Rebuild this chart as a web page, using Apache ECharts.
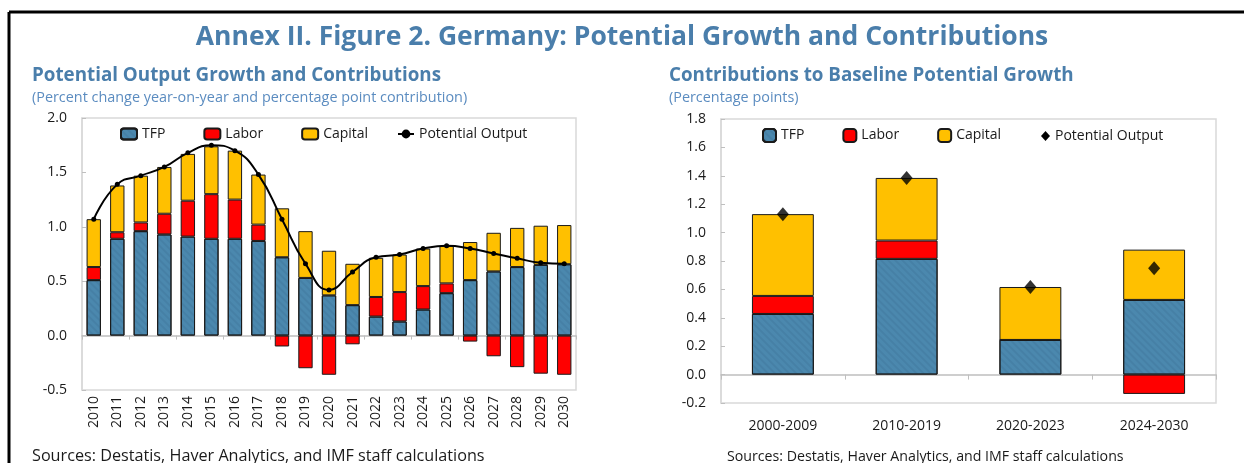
<!DOCTYPE html>
<html>
<head>
<meta charset="utf-8">
<script src="https://cdn.jsdelivr.net/npm/echarts@6/dist/echarts.min.js"></script>
<style>
  html, body { margin: 0; padding: 0; background: #fff; }
  #chart { width: 1244px; height: 463px; }
</style>
</head>
<body>
<div id="chart"></div>
<script>
// Annual potential output growth and its contributions (percent / pp)
const years = ['2010','2011','2012','2013','2014','2015','2016','2017','2018','2019','2020',
               '2021','2022','2023','2024','2025','2026','2027','2028','2029','2030'];
const tfpAnnual     = [0.51, 0.89, 0.96, 0.93, 0.91, 0.89, 0.89, 0.87, 0.72, 0.53, 0.37,
                       0.28, 0.175, 0.13, 0.24, 0.39, 0.51, 0.59, 0.63, 0.65, 0.656];
const laborAnnual   = [0.12, 0.06, 0.08, 0.19, 0.33, 0.41, 0.36, 0.15, -0.10, -0.30, -0.36,
                       -0.08, 0.18, 0.27, 0.215, 0.09, -0.055, -0.19, -0.29, -0.35, -0.36];
const capitalAnnual = [0.44, 0.43, 0.43, 0.43, 0.43, 0.44, 0.45, 0.46, 0.45, 0.43, 0.41,
                       0.38, 0.36, 0.345, 0.345, 0.345, 0.35, 0.355, 0.36, 0.36, 0.36];
const potentialAnnual = [1.07, 1.39, 1.47, 1.55, 1.68, 1.75, 1.70, 1.48, 1.07, 0.66, 0.42,
                         0.585, 0.72, 0.745, 0.80, 0.825, 0.80, 0.755, 0.71, 0.67, 0.66];
const leftTicks = { min: -0.5, max: 2.0, interval: 0.5 };

// Period averages for the baseline (percentage points)
const periods = ['2000-2009', '2010-2019', '2020-2023', '2024-2030'];
const tfpPeriod       = [0.427, 0.815, 0.244, 0.526];
const laborPeriod     = [0.127, 0.129, 0.0, -0.136];
const capitalPeriod   = [0.576, 0.441, 0.373, 0.354];
const potentialPeriod = [1.13, 1.385, 0.617, 0.749];
const rightTicks = { min: -0.2, max: 1.8, interval: 0.2 };

const FONT = 'Open Sans';
const BLUE_TITLE = '#4a7eab';
const BLUE_NOTE = '#5b8cc0';
const TFP_COLOR = '#4b88ae';
const LABOR_COLOR = '#ff0000';
const CAPITAL_COLOR = '#ffc000';
const GRID_BORDER = '#d9d9d9';
const TEXT = '#1a1a1a';

// faint diagonal hatching on the TFP bars
const tfpDecal = {
  symbol: 'rect', symbolSize: 1,
  color: 'rgba(30, 70, 110, 0.12)',
  dashArrayX: [1, 0], dashArrayY: [2, 3],
  rotation: Math.PI / 4
};

function barStyle(color, decal) {
  const s = { color: color, borderColor: '#1a1a1a', borderWidth: 1 };
  if (decal) s.decal = decal;
  return s;
}

function textTitle(text, left, top, size, weight, color) {
  return { text: text, left: left, top: top, padding: 0,
    textStyle: { color: color, fontSize: size, fontWeight: weight, fontFamily: FONT } };
}

const chart = echarts.init(document.getElementById('chart'), null, { renderer: 'canvas' });

const axisLabelStyle = { color: TEXT, fontFamily: FONT, fontSize: 14 };
const legendText = { fontFamily: FONT, fontSize: 14, color: TEXT };

const option = {
  animation: false,
  backgroundColor: '#fff',
  textStyle: { fontFamily: FONT },
  title: [
    textTitle('Annex II. Figure 2. Germany: Potential Growth and Contributions', 'center', 24, 26.5, 'bold', BLUE_TITLE),
    textTitle('Potential Output Growth and Contributions', 32, 66, 18.8, 'bold', BLUE_TITLE),
    textTitle('(Percent change year-on-year and percentage point contribution)', 32, 91, 14.4, 'normal', BLUE_NOTE),
    textTitle('Contributions to Baseline Potential Growth', 669, 66, 18.8, 'bold', BLUE_TITLE),
    textTitle('(Percentage points)', 669, 91, 14.4, 'normal', BLUE_NOTE),
    textTitle('Sources: Destatis, Haver Analytics, and IMF staff calculations', 32, 448, 16.2, 'normal', TEXT),
    textTitle('Sources: Destatis, Haver Analytics, and IMF staff calculations', 727, 450, 14.2, 'normal', TEXT)
  ],
  legend: [
    { data: ['TFP', 'Labor', 'Capital'], left: 120, top: 127, padding: 0, itemWidth: 16, itemHeight: 11,
      itemGap: 38, textStyle: legendText, selectedMode: false },
    { data: ['Potential Output'], left: 397, top: 127, padding: 0, itemWidth: 16, itemHeight: 11,
      textStyle: legendText, selectedMode: false },
    { data: ['TFP', 'Labor', 'Capital'], left: 762, top: 128, padding: 0, itemWidth: 13, itemHeight: 13,
      itemGap: 38, textStyle: legendText, selectedMode: false },
    { data: [{ name: 'Potential Output', icon: 'diamond' }], left: 1041, top: 129, padding: 0,
      itemWidth: 9, itemHeight: 10, textStyle: legendText, selectedMode: false }
  ],
  grid: [
    { left: 82, right: 668, top: 118, bottom: 73, show: true, borderColor: GRID_BORDER, borderWidth: 1.5 },
    { left: 721, right: 28, top: 119, bottom: 60, show: true, borderColor: GRID_BORDER, borderWidth: 1.5 }
  ],
  xAxis: [
    { type: 'category', data: years, gridIndex: 0, position: 'bottom',
      axisLine: { show: false, onZero: false }, axisTick: { show: false },
      axisLabel: Object.assign({ rotate: 90, margin: 6, interval: 0 }, axisLabelStyle) },
    { type: 'category', data: years, gridIndex: 0,
      axisLine: { onZero: true, lineStyle: { color: '#bfbfbf', width: 1.5 } },
      axisTick: { show: true, inside: true, length: 4, lineStyle: { color: '#bfbfbf' } },
      axisLabel: { show: false } },
    { type: 'category', data: periods, gridIndex: 1, position: 'bottom',
      axisLine: { show: false, onZero: false }, axisTick: { show: false },
      axisLabel: Object.assign({ margin: 16, interval: 0 }, axisLabelStyle) },
    { type: 'category', data: periods, gridIndex: 1,
      axisLine: { onZero: true, lineStyle: { color: '#bfbfbf', width: 1.5 } },
      axisTick: { show: true, inside: true, length: 5, lineStyle: { color: '#bfbfbf' } },
      axisLabel: { show: false } }
  ],
  yAxis: [
    { type: 'value', gridIndex: 0, min: leftTicks.min, max: leftTicks.max, interval: leftTicks.interval,
      splitLine: { show: false },
      axisLine: { show: true, lineStyle: { color: GRID_BORDER, width: 1.5 } },
      axisTick: { show: true, inside: true, length: 4, lineStyle: { color: '#bfbfbf' } },
      axisLabel: Object.assign({ margin: 15, formatter: v => v.toFixed(1) }, axisLabelStyle) },
    { type: 'value', gridIndex: 1, min: rightTicks.min, max: rightTicks.max, interval: rightTicks.interval,
      splitLine: { show: false },
      axisLine: { show: true, lineStyle: { color: GRID_BORDER, width: 1.5 } },
      axisTick: { show: true, inside: true, length: 4, lineStyle: { color: '#bfbfbf' } },
      axisLabel: Object.assign({ margin: 15, formatter: v => v.toFixed(1) }, axisLabelStyle) }
  ],
  series: [
    { name: 'TFP', type: 'bar', stack: 'annual', xAxisIndex: 0, yAxisIndex: 0, barWidth: '61%',
      data: tfpAnnual, itemStyle: barStyle(TFP_COLOR, tfpDecal) },
    { name: 'Labor', type: 'bar', stack: 'annual', xAxisIndex: 0, yAxisIndex: 0, barWidth: '61%',
      data: laborAnnual, itemStyle: barStyle(LABOR_COLOR) },
    { name: 'Capital', type: 'bar', stack: 'annual', xAxisIndex: 0, yAxisIndex: 0, barWidth: '61%',
      data: capitalAnnual, itemStyle: barStyle(CAPITAL_COLOR) },
    { name: 'Potential Output', type: 'line', xAxisIndex: 0, yAxisIndex: 0, smooth: 0.5,
      data: potentialAnnual, symbol: 'circle', symbolSize: 5, z: 5,
      lineStyle: { color: '#000', width: 2 }, itemStyle: { color: '#000' } },

    { name: 'TFP', type: 'bar', stack: 'period', xAxisIndex: 2, yAxisIndex: 1, barWidth: '50%',
      data: tfpPeriod, itemStyle: barStyle(TFP_COLOR, tfpDecal) },
    { name: 'Labor', type: 'bar', stack: 'period', xAxisIndex: 2, yAxisIndex: 1, barWidth: '50%',
      data: laborPeriod, itemStyle: barStyle(LABOR_COLOR) },
    { name: 'Capital', type: 'bar', stack: 'period', xAxisIndex: 2, yAxisIndex: 1, barWidth: '50%',
      data: capitalPeriod, itemStyle: barStyle(CAPITAL_COLOR) },
    { name: 'Potential Output', type: 'scatter', xAxisIndex: 2, yAxisIndex: 1,
      data: potentialPeriod, symbol: 'diamond', symbolSize: [12, 14], z: 5,
      itemStyle: { color: '#000' } }
  ],
  graphic: [
    { type: 'line', shape: { x1: 9, y1: 12, x2: 1244, y2: 12 }, style: { stroke: '#000', lineWidth: 3 } },
    { type: 'line', shape: { x1: 9, y1: 12, x2: 9, y2: 463 }, style: { stroke: '#000', lineWidth: 3 } }
  ]
};

chart.setOption(option);
</script>
</body>
</html>
